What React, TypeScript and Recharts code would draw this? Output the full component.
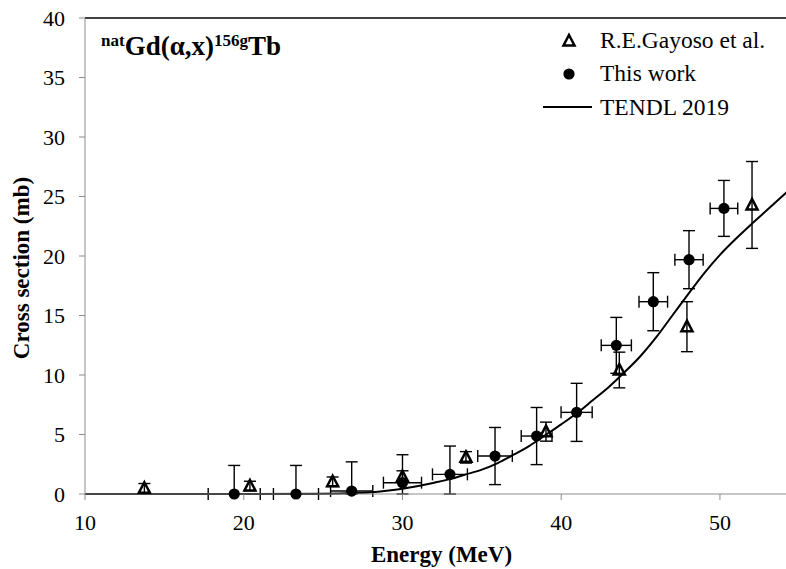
import React from 'react';
import { ComposedChart, Scatter, Line, XAxis, YAxis, ErrorBar, ReferenceLine } from 'recharts';

// ---- Data ----
const thisWorkE = [19.4, 23.29, 26.8, 30.0, 32.99, 35.83, 38.45, 40.97, 43.47, 45.8, 48.05, 50.25];
const thisWorkCS = [0, 0, 0.25, 0.95, 1.65, 3.19, 4.87, 6.86, 12.49, 16.16, 19.69, 24.0];
const thisWorkErrE = [1.64, 1.42, 1.33, 1.2, 1.1, 1.09, 0.97, 0.98, 0.95, 0.9, 0.89, 0.87];
const thisWorkErrCS = [2.4, 2.4, 2.45, 2.35, 2.38, 2.4, 2.4, 2.44, 2.35, 2.44, 2.44, 2.35];

const gayosoE = [13.74, 20.39, 25.6, 30.0, 34.0, 39.04, 43.66, 47.92, 52.02];
const gayosoCS = [0.48, 0.67, 1.03, 1.45, 3.08, 5.24, 10.42, 14.06, 24.29];
const gayosoErrCS = [0.4, 0.4, 0.4, 0.5, 0.48, 0.8, 1.5, 2.1, 3.65];

const tendlE = [10, 20, 25, 27, 28, 29, 30, 31, 32, 33, 34, 35, 36, 37, 38, 39, 40, 41, 42, 43, 44, 45, 46, 47, 48, 49, 50, 51, 52, 53, 54.2];
const tendlCS = [0, 0, 0.02, 0.08, 0.15, 0.28, 0.45, 0.68, 0.95, 1.25, 1.65, 2.05, 2.6, 3.3, 4.05, 4.95, 5.85, 6.8, 7.9, 9.0, 10.25, 11.6, 13.2, 15.0, 16.8, 18.55, 20.1, 21.45, 22.7, 23.9, 25.35];

const xTicks = [10, 20, 30, 40, 50];
const yTicks = [0, 5, 10, 15, 20, 25, 30, 35, 40];

const thisWork = thisWorkE.map((e, i) => ({
  x: e,
  y: thisWorkCS[i],
  ex: thisWorkErrE[i],
  // error bars are cut at the axis (0)
  ey: [Math.min(thisWorkErrCS[i], thisWorkCS[i]), thisWorkErrCS[i]],
}));
const gayoso = gayosoE.map((e, i) => ({ x: e, y: gayosoCS[i], ey: gayosoErrCS[i] }));
const tendl = tendlE.map((e, i) => ({ x: e, y: tendlCS[i] }));

const FONT = "Liberation Serif, Times New Roman, Times, serif";

const TriangleShape = (props: any) => {
  const { cx, cy } = props;
  if (cx == null || cy == null) return null;
  return (
    <path
      d={`M${cx},${cy - 6} L${cx + 5.5},${cy + 4.5} L${cx - 5.5},${cy + 4.5} Z`}
      fill="none"
      stroke="#000"
      strokeWidth={2.5}
      strokeLinejoin="miter"
    />
  );
};

const CircleShape = (props: any) => {
  const { cx, cy } = props;
  if (cx == null || cy == null) return null;
  return <circle cx={cx} cy={cy} r={5.6} fill="#000" />;
};

const XTick = (props: any) => {
  const { x, y, payload } = props;
  return (
    <text x={x} y={y} dy={15.5} textAnchor="middle" fill="#000" style={{ fontFamily: FONT, fontSize: 22 }}>
      {payload.value}
    </text>
  );
};

const YTick = (props: any) => {
  const { x, y, payload } = props;
  return (
    <text x={x} y={y} dy={7.5} textAnchor="end" fill="#000" style={{ fontFamily: FONT, fontSize: 22 }}>
      {payload.value}
    </text>
  );
};

export default function App() {
  return (
    <div style={{ position: 'absolute', left: 0, top: 0, width: 786, height: 569, background: '#fff', fontFamily: FONT }}>
      <ComposedChart width={786} height={569} margin={{ top: 18, right: 0, bottom: 0, left: 0 }}>
        <XAxis
          type="number"
          dataKey="x"
          domain={[10, 54.16]}
          ticks={xTicks}
          allowDataOverflow
          height={75}
          stroke="#8c8c8c"
          tickSize={6}
          tickMargin={14}
          tick={<XTick />}
          label={{
            value: 'Energy (MeV)',
            position: 'insideBottom',
            offset: 7,
            dx: 6,
            style: { fill: '#000', fontSize: 23, fontWeight: 'bold', fontFamily: FONT },
          }}
        />
        <YAxis
          type="number"
          domain={[0, 40]}
          ticks={yTicks}
          width={85}
          stroke="#8c8c8c"
          tickSize={6}
          tickMargin={14}
          tick={<YTick />}
          label={{
            value: 'Cross section (mb)',
            angle: -90,
            position: 'insideLeft',
            offset: 0,
            dx: 21,
            dy: 12,
            style: { fill: '#000', fontSize: 23, fontWeight: 'bold', fontFamily: FONT, textAnchor: 'middle' },
          }}
        />
        <ReferenceLine y={40} stroke="#000" strokeWidth={1.5} />
        <Line
          data={tendl}
          dataKey="y"
          type="monotone"
          stroke="#000"
          strokeWidth={2}
          dot={false}
          activeDot={false}
          isAnimationActive={false}
          name="TENDL 2019"
        />
        <Scatter data={thisWork} dataKey="y" shape={CircleShape} isAnimationActive={false} name="This work">
          <ErrorBar dataKey="ex" direction="x" width={6} stroke="#000" strokeWidth={1.4} />
          <ErrorBar dataKey="ey" direction="y" width={6} stroke="#000" strokeWidth={1.4} />
        </Scatter>
        <Scatter data={gayoso} dataKey="y" shape={TriangleShape} isAnimationActive={false} name="R.E.Gayoso et al.">
          <ErrorBar dataKey="ey" direction="y" width={6} stroke="#000" strokeWidth={1.4} />
        </Scatter>
        <g>
          <text x={101} y={55} fontWeight="bold" fill="#000" style={{ fontFamily: FONT, fontSize: 27 }}>
            <tspan style={{ fontSize: 17 }} dy={-9}>nat</tspan>
            <tspan dy={9}>Gd(α,x)</tspan>
            <tspan style={{ fontSize: 17 }} dy={-9}>156g</tspan>
            <tspan dy={9}>Tb</tspan>
          </text>
        </g>
        <g fill="#000" style={{ fontFamily: FONT, fontSize: 23.5 }}>
          <path d="M569,35 L574.5,45.5 L563.5,45.5 Z" fill="none" stroke="#000" strokeWidth={2.5} />
          <text x={600} y={48}>R.E.Gayoso et al.</text>
          <circle cx={569} cy={74} r={5.6} fill="#000" />
          <text x={600} y={81}>This work</text>
          <line x1={543} x2={592} y1={107} y2={107} stroke="#000" strokeWidth={2} />
          <text x={600} y={115}>TENDL 2019</text>
        </g>
      </ComposedChart>
    </div>
  );
}
